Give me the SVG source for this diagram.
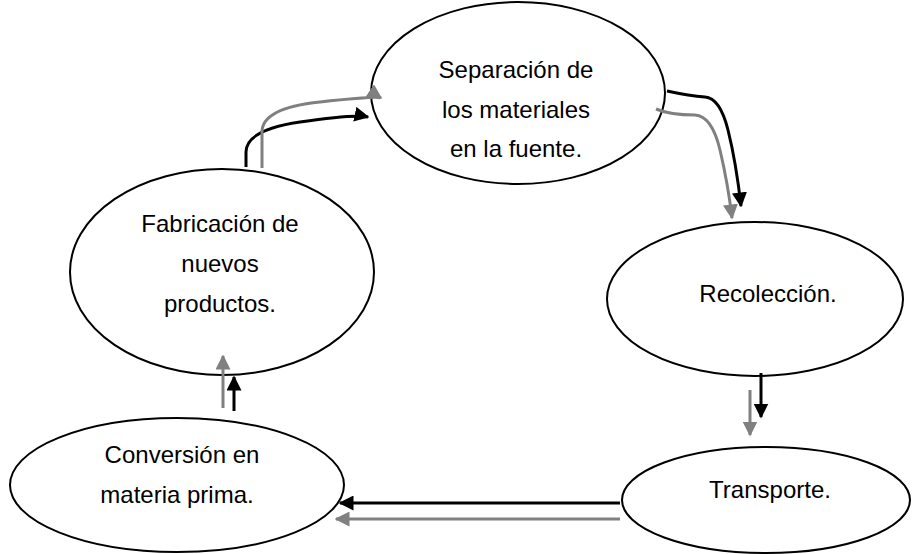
<svg xmlns="http://www.w3.org/2000/svg" width="913" height="554" viewBox="0 0 913 554">
<defs>
<style>
.node ellipse{fill:#fff;stroke:#000;stroke-width:2}
.node text{font-family:"Liberation Sans",Arial,sans-serif;font-size:24px;fill:#000;text-anchor:middle}
.blk{fill:none;stroke:#000;stroke-width:3}
.gry{fill:none;stroke:#808080;stroke-width:3}
</style>
<marker id="ab" viewBox="0 0 10 10" refX="9" refY="5" markerWidth="5" markerHeight="5" markerUnits="strokeWidth" orient="auto"><path d="M0,0L10,5L0,10z" fill="#000"/></marker>
<marker id="ag" viewBox="0 0 10 10" refX="9" refY="5" markerWidth="5" markerHeight="5" markerUnits="strokeWidth" orient="auto"><path d="M0,0L10,5L0,10z" fill="#808080"/></marker>
</defs>
<rect width="913" height="554" fill="#fff"/>
<g id="n1" class="node"><ellipse cx="518" cy="93" rx="147" ry="91"/><text x="516" y="78">Separación de</text><text x="516" y="118">los materiales</text><text x="516" y="157">en la fuente.</text></g>
<g id="n2" class="node"><ellipse cx="755" cy="299" rx="148" ry="77"/><text x="768" y="302">Recolección.</text></g>
<g id="n3" class="node"><ellipse cx="766" cy="500" rx="144" ry="53"/><text x="770" y="498">Transporte.</text></g>
<g id="n4" class="node"><ellipse cx="177" cy="485" rx="167" ry="67"/><text x="182" y="463">Conversión en</text><text x="177" y="503">materia prima.</text></g>
<g id="n5" class="node"><ellipse cx="222" cy="272" rx="152" ry="103"/><text x="220" y="232">Fabricación de</text><text x="220" y="272">nuevos</text><text x="220" y="312">productos.</text></g>
<g id="connectors">
<path class="blk" d="M246,167V152Q246,130 300,122T368,117" marker-end="url(#ab)"/>
<path class="gry" d="M262,168V132Q262,108 320,102T381,98" marker-end="url(#ag)"/>
<path class="blk" d="M667,91Q690,96 705,97Q720,98 728,130T741,206" marker-end="url(#ab)"/>
<path class="gry" d="M656,109Q670,115 695,115Q712,116 720,150T732,218" marker-end="url(#ag)"/>
<path class="blk" d="M761,373V417" marker-end="url(#ab)"/>
<path class="gry" d="M750,390V435" marker-end="url(#ag)"/>
<path class="blk" d="M620,503H340" marker-end="url(#ab)"/>
<path class="gry" d="M620,519H336" marker-end="url(#ag)"/>
<path class="gry" d="M223,408V356" marker-end="url(#ag)"/>
<path class="blk" d="M234,411V377" marker-end="url(#ab)"/>
</g>
</svg>
